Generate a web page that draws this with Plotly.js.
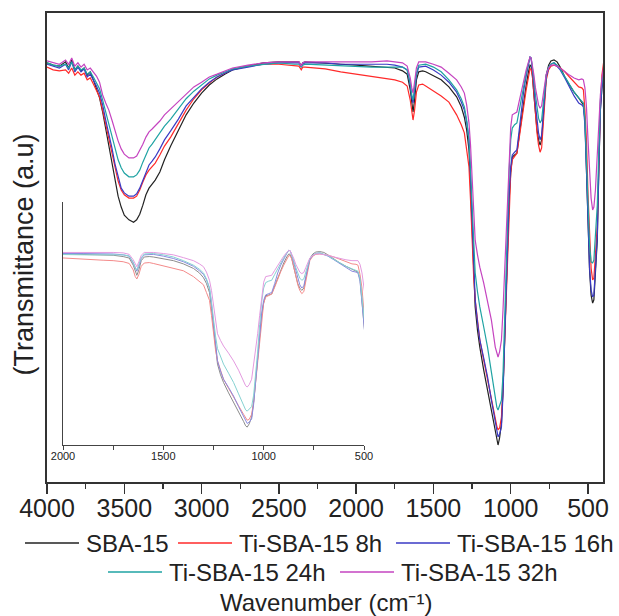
<!DOCTYPE html>
<html>
<head>
<meta charset="utf-8">
<script src="https://cdn.plot.ly/plotly-3.0.1.min.js"></script>
<style>html,body{margin:0;padding:0;background:#fff;}#chart{width:619px;height:616px;}</style>
</head>
<body>
<div id="chart"></div>
<script>
// Wavenumber (cm-1)
const wavenumber = [
 4000,3960,3920,3880,3860,3840,3820,3800,3780,3760,
 3740,3720,3700,3680,3660,3640,3620,3600,3580,3560,
 3540,3520,3500,3470,3440,3420,3400,3380,3360,3340,
 3320,3300,3270,3240,3200,3150,3100,3050,3000,2950,
 2900,2850,2800,2700,2600,2500,2400,2370,2355,2345,
 2330,2200,2100,2000,1900,1800,1750,1700,1670,1650,
 1640,1632,1622,1610,1595,1570,1550,1500,1450,1400,
 1350,1320,1300,1285,1270,1260,1250,1240,1230,1215,
 1200,1175,1150,1125,1100,1090,1082,1072,1060,1050,
 1040,1030,1020,1010,1000,990,975,960,945,930,
 915,900,885,875,868,860,850,840,830,820,
 810,800,790,780,770,755,740,720,700,680,
 650,620,590,560,540,530,520,510,500,490,
 480,470,462,452,440,430,420,410,397
];
// Transmittance (a.u.)
const sba15 = [
 90.1,89.6,89.4,90.3,89.0,90.7,88.6,89.4,88.4,89.0,
 87.5,88.2,86.5,84.4,82.7,79.7,76.3,72.7,69.1,65.3,
 61.9,59.6,57.9,56.9,56.4,56.9,58.1,60.0,62.2,63.6,
 64.5,65.3,67.0,69.6,72.5,75.9,79.1,81.6,83.7,85.4,
 86.7,87.7,88.6,89.4,90.1,90.3,90.3,90.3,89.4,90.1,
 90.3,90.1,89.8,89.6,89.4,89.2,89.0,88.4,87.7,84.4,
 81.2,79.7,82.2,86.5,88.2,88.4,88.2,87.3,86.5,85.0,
 82.9,80.8,78.6,75.9,71.7,64.3,54.8,45.2,38.5,33.6,
 30.0,25.2,20.9,16.7,11.9,9.9,9.3,10.8,13.9,20.9,
 31.5,42.1,52.6,61.1,66.8,70.2,70.6,71.0,74.8,78.6,
 82.2,85.4,88.2,89.6,89.4,87.5,83.3,79.1,75.9,73.8,
 72.7,73.8,78.0,83.3,87.5,89.6,90.5,90.7,90.3,89.2,
 87.1,85.4,83.9,82.7,81.8,81.2,78.0,66.8,54.8,46.3,
 41.0,39.3,40.0,45.2,52.6,67.4,80.1,84.8,88.6
];
const ti8h = [
 89.2,88.6,88.4,88.6,87.9,89.0,87.5,88.2,87.5,87.9,
 86.5,86.9,85.6,84.4,82.9,80.1,77.2,74.2,71.0,67.9,
 65.1,63.2,62.2,61.5,61.5,61.9,63.2,64.9,66.4,67.4,
 68.1,68.9,70.6,72.5,74.4,77.4,80.1,82.5,84.4,85.8,
 87.1,87.9,88.8,89.4,89.8,89.8,89.4,89.4,88.6,89.2,
 89.2,88.8,88.2,87.7,87.1,86.7,86.5,86.0,85.2,82.2,
 79.1,78.0,80.1,83.9,85.4,85.6,85.2,84.1,83.1,81.8,
 79.1,77.0,75.3,71.7,68.1,61.1,52.6,45.2,40.0,35.3,
 31.5,27.3,23.0,19.2,15.2,13.3,12.5,12.9,15.2,20.9,
 30.5,40.0,49.1,59.0,66.8,69.6,70.4,71.0,74.2,78.0,
 81.4,84.4,87.1,88.8,88.8,87.3,83.7,79.1,75.3,72.7,
 71.2,72.1,77.0,82.2,86.5,88.6,89.4,89.6,89.4,89.0,
 88.2,87.1,86.0,85.0,84.8,84.4,80.1,73.8,62.2,52.6,
 46.7,44.2,44.6,49.5,55.8,68.5,81.2,87.5,90.7
];
const ti16h = [
 89.8,89.4,89.0,89.8,88.6,90.3,88.2,89.2,88.2,88.8,
 87.1,87.7,86.5,85.2,83.7,81.2,78.0,75.3,72.1,68.7,
 65.8,63.6,62.6,61.9,61.9,62.4,63.6,65.3,67.2,68.5,
 69.3,70.2,71.9,73.8,75.7,78.2,81.0,82.9,84.6,86.0,
 87.1,87.9,88.6,89.2,89.8,90.1,90.1,90.1,89.2,89.8,
 90.1,90.1,89.8,89.8,89.8,89.8,89.6,89.2,88.6,85.4,
 82.7,81.6,83.9,87.5,89.2,89.4,89.4,88.6,87.5,86.0,
 83.9,81.8,80.1,77.6,73.8,66.4,56.9,47.4,40.0,35.3,
 31.5,27.7,23.7,18.8,13.9,12.1,11.0,11.6,13.1,19.9,
 31.5,42.1,52.6,62.2,68.1,70.6,71.2,71.7,75.9,80.8,
 84.4,87.3,89.8,91.3,91.1,89.0,85.4,81.2,77.6,75.3,
 73.8,74.8,79.1,83.7,87.1,89.0,89.8,90.1,89.4,88.6,
 86.9,85.0,83.1,81.6,81.2,80.8,77.0,67.4,55.8,46.7,
 42.1,40.6,41.0,46.3,53.3,67.9,80.1,84.8,88.2
];
const ti24h = [
 90.1,89.6,89.4,89.8,89.0,90.3,88.6,89.4,88.6,89.0,
 87.7,88.2,87.1,85.8,84.6,82.2,79.7,77.6,75.1,72.1,
 69.6,67.9,66.8,66.0,66.0,66.4,67.4,69.1,70.8,72.1,
 72.9,73.8,75.3,76.7,78.2,80.3,82.5,84.1,85.4,86.7,
 87.5,88.2,88.8,89.4,89.8,90.1,89.8,89.8,89.2,89.6,
 89.8,89.6,89.4,89.4,89.2,89.2,89.2,89.2,88.6,85.8,
 83.3,82.2,84.8,87.9,89.6,89.8,89.8,89.2,88.2,86.5,
 84.4,82.5,80.8,78.0,73.8,67.4,59.0,51.6,45.7,41.7,
 38.5,34.3,30.0,24.7,18.8,17.3,16.7,17.6,18.8,24.1,
 33.6,44.2,56.9,67.4,73.8,76.3,77.0,77.4,80.1,82.9,
 85.6,87.9,90.1,91.3,91.1,89.2,86.5,83.3,80.5,78.4,
 77.4,78.0,81.2,84.8,87.5,89.2,89.8,90.1,89.6,88.8,
 87.1,85.4,83.9,82.7,82.0,81.6,78.4,69.6,60.0,51.6,
 48.0,47.8,48.4,53.1,60.0,71.7,82.2,86.0,89.0
];
const ti32h = [
 90.5,90.1,89.8,90.7,89.8,91.1,89.4,90.1,89.2,89.8,
 88.6,89.0,88.2,87.3,86.0,83.3,81.6,80.1,78.0,75.7,
 73.6,71.9,70.8,70.0,70.0,70.4,71.5,72.9,74.4,75.5,
 76.1,76.7,77.8,79.1,80.3,82.0,83.5,85.0,86.0,87.1,
 87.7,88.4,89.0,89.6,90.1,90.3,90.3,90.3,89.4,90.1,
 90.3,90.3,90.3,90.3,90.3,90.5,90.3,90.1,89.4,86.9,
 84.8,83.7,86.0,89.0,90.3,90.3,90.3,89.8,89.2,87.9,
 86.5,85.0,83.7,81.2,77.4,72.7,65.3,59.0,52.6,49.5,
 46.9,43.6,40.0,35.7,30.0,28.5,27.9,29.0,31.5,37.8,
 45.7,52.6,61.1,69.6,76.5,79.1,79.5,79.7,82.0,84.4,
 86.5,88.6,90.3,91.3,91.1,89.6,87.5,84.8,82.7,81.2,
 80.5,81.0,83.3,85.8,87.7,89.0,89.6,89.6,89.4,89.0,
 88.2,87.5,86.9,86.5,86.7,86.5,84.8,80.8,73.8,66.4,
 61.5,59.0,59.6,63.2,69.6,77.0,83.3,86.9,89.6
];
const seriesNames = ['SBA-15','Ti-SBA-15 8h','Ti-SBA-15 16h','Ti-SBA-15 24h','Ti-SBA-15 32h'];
const xTickLabels = ['500','1000','1500','2000','2500','3000','3500','4000'];
const insetTickLabels = ['500','1000','1500','2000'];
const seriesData = [sba15, ti8h, ti16h, ti24h, ti32h];

seriesData.forEach((s,i)=>{ if (s.length !== wavenumber.length) throw new Error('length mismatch '+seriesNames[i]+' '+s.length+' vs '+wavenumber.length); });

// ---- styling / layout constants ----
const seriesColors = ['#222222','#ff2a2a','#3a3ac4','#1fa3a3','#c544c0'];
const insetColors = ['#8c8c8c','#f48a8a','#8a8ae0','#86d2d2','#e49ae0'];
const FONT = 'Liberation Sans, Arial, sans-serif';
const W = 619, H = 616;
const M = {l:47, r:16, t:13, b:134};
const PW = W - M.l - M.r, PH = H - M.t - M.b;
const px2x = px => (px - M.l) / PW;
const py2y = py => (H - M.b - py) / PH;

// manual legend placement (two centred rows), in figure pixels
const legendSlots = [
  {row:0, x:25}, {row:0, x:178}, {row:0, x:396},
  {row:1, x:108}, {row:1, x:340}
];
const legendRowY = [543, 572];
const legendLineLen = 54, legendTextGap = 7;

const traces = [];
seriesData.forEach((s,i)=>{
  traces.push({x: wavenumber, y: s, type:'scatter', mode:'lines', name: seriesNames[i],
    line:{color: seriesColors[i], width:1.2}, xaxis:'x', yaxis:'y', showlegend:false});
});
seriesData.forEach((s,i)=>{
  traces.push({x: wavenumber, y: s, type:'scatter', mode:'lines', name: seriesNames[i] + ' (inset)',
    line:{color: insetColors[i], width:1}, xaxis:'x2', yaxis:'y2', showlegend:false});
});

const shapes = [], annotations = [];
seriesNames.forEach((nm,i)=>{
  const slot = legendSlots[i];
  const yy = py2y(legendRowY[slot.row]);
  shapes.push({type:'line', xref:'paper', yref:'paper', x0:px2x(slot.x), x1:px2x(slot.x+legendLineLen),
    y0:yy, y1:yy, line:{color:seriesColors[i], width:1.5}});
  annotations.push({text:nm, xref:'paper', yref:'paper', x:px2x(slot.x+legendLineLen+legendTextGap-2), y:yy,
    xanchor:'left', yanchor:'middle', showarrow:false, font:{size:24, family:FONT, color:'#222'}});
});
annotations.push({text:'(Transmittance (a.u)', textangle:-90, xref:'paper', yref:'paper',
  x:px2x(23.5), y:py2y(255), xanchor:'center', yanchor:'middle', showarrow:false,
  font:{size:27, family:FONT, color:'#222'}});
annotations.push({text:'Wavenumber (cm\u207B\u00B9)', xref:'paper', yref:'paper',
  x:px2x(326), y:py2y(602), xanchor:'center', yanchor:'middle', showarrow:false,
  font:{size:24, family:FONT, color:'#222'}});

const layout = {
  width: W, height: H,
  margin: M,
  paper_bgcolor:'#ffffff', plot_bgcolor:'rgba(0,0,0,0)',
  font: {family: FONT, color:'#222'},
  showlegend: false,
  xaxis: {
    range:[4000, 403], tickmode:'array', tickvals: xTickLabels.map(Number), ticktext: xTickLabels,
    ticks:'outside', ticklen:10, tickwidth:1.5, tickcolor:'#333',
    showline:true, mirror:true, linewidth:2, linecolor:'#333',
    showgrid:false, zeroline:false, ticklabelstandoff:-7,
    tickfont:{size:25, family:FONT, color:'#222'},
    minor:{dtick:250, ticks:'outside', ticklen:5, tickwidth:1.2, tickcolor:'#333', showgrid:false}
  },
  yaxis: {
    range:[1.48, 100.63], showticklabels:false, ticks:'', showline:true, mirror:true,
    linewidth:2, linecolor:'#333', showgrid:false, zeroline:false
  },
  xaxis2: {
    domain:[px2x(63), px2x(364)], anchor:'y2', range:[2000, 500],
    tickmode:'array', tickvals: insetTickLabels.map(Number), ticktext: insetTickLabels,
    ticks:'outside', ticklen:4, tickwidth:1, tickcolor:'#444',
    showline:true, linewidth:1.2, linecolor:'#444', showgrid:false, zeroline:false,
    ticklabelstandoff:-3,
    tickfont:{size:11, family:FONT, color:'#222'},
    minor:{dtick:250, ticks:'outside', ticklen:4, tickwidth:1, tickcolor:'#444', showgrid:false}
  },
  yaxis2: {
    domain:[py2y(445), py2y(202)], anchor:'x2', range:[1, 113.7],
    showticklabels:false, ticks:'', showline:true, linewidth:1.2, linecolor:'#444',
    showgrid:false, zeroline:false
  },
  shapes: shapes,
  annotations: annotations
};
Plotly.newPlot('chart', traces, layout, {displayModeBar:false, staticPlot:true});
</script>
</body>
</html>
